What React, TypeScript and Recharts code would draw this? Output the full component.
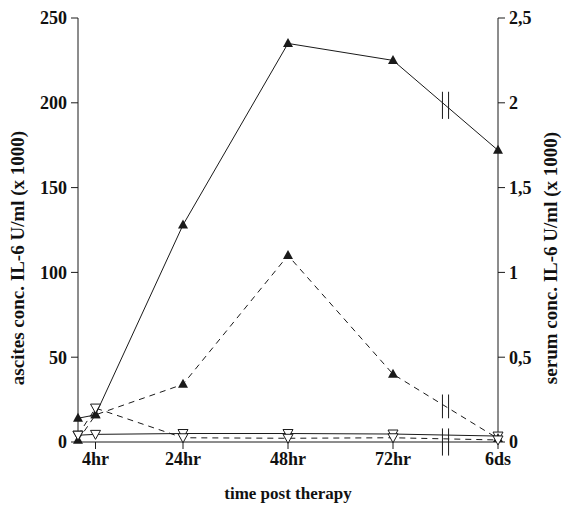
import { LineChart, Line, XAxis, YAxis, ReferenceLine } from 'recharts';

// sampling times in hours; 6ds is drawn after the axis break, one step past 72hr
const times = [0, 4, 24, 48, 72, 96];
const tickTimes = [4, 24, 48, 72, 96];
const tickLabels = ['4hr', '24hr', '48hr', '72hr', '6ds'];

// ascites (left axis, U/ml x 1000)
const ascitesA = [14, 16, 128, 235, 225, 172];
const ascitesC = [4, 4.5, 5, 5, 4.7, 3.5];
// serum (right axis, U/ml x 1000)
const serumB = [0.01, 0.16, 0.34, 1.1, 0.4, 0.02];
const serumD = [0.04, 0.2, 0.025, 0.022, 0.025, 0.012];

const leftTicks = [0, 50, 100, 150, 200, 250];
const rightTicks = [0, 0.5, 1, 1.5, 2, 2.5];

const data = times.map((t, i) => ({
  t,
  a: ascitesA[i],
  c: ascitesC[i],
  b: serumB[i],
  d: serumD[i],
}));

const INK = '#1a1a1a';
const FONT = '"Liberation Serif", "DejaVu Serif", serif';

const FilledUp = (props: any) => {
  const { cx, cy } = props;
  if (cx == null || cy == null) return null;
  return <path d={`M${cx},${cy - 5.5} L${cx + 5},${cy + 3.5} L${cx - 5},${cy + 3.5} Z`} fill={INK} />;
};

const OpenDown = (props: any) => {
  const { cx, cy } = props;
  if (cx == null || cy == null) return null;
  return (
    <path
      d={`M${cx - 5},${cy - 4} L${cx + 5},${cy - 4} L${cx},${cy + 5} Z`}
      fill="#fff"
      stroke={INK}
      strokeWidth={1}
    />
  );
};

const tickStyle = { fontFamily: FONT, fontWeight: 700, fontSize: 18, fill: '#111' };

const VerticalTitle = ({ text, tx }: any) => {
  const cy = 258;
  return (
    <text
      x={tx}
      y={cy}
      transform={`rotate(-90 ${tx} ${cy})`}
      textAnchor="middle"
      dominantBaseline="central"
      style={{ fontFamily: FONT, fontWeight: 700, fontSize: 19, fill: '#111' }}
    >
      {text}
    </text>
  );
};

// break marks sit midway between the last two samples
const breakT = (times[4] + times[5]) / 2;
const midA = (ascitesA[4] + ascitesA[5]) / 2;
const midB = (serumB[4] + serumB[5]) / 2;

export default function App() {
  return (
    <div style={{ position: 'absolute', left: 0, top: 0, background: '#fff' }}>
      <LineChart width={563} height={513} data={data} margin={{ top: 18, right: 0, bottom: 20, left: 0 }}>
        <XAxis
          dataKey="t"
          type="number"
          domain={[0, 96]}
          ticks={tickTimes}
          tickFormatter={(v: number) => tickLabels[tickTimes.indexOf(v)]}
          tick={tickStyle}
          tickSize={7}
          tickMargin={3}
          height={51}
          stroke={INK}
          label={{ value: 'time post therapy', position: 'insideBottom', offset: -6, style: { ...tickStyle, fontSize: 17 } }}
        />
        <YAxis
          yAxisId="left"
          domain={[0, 250]}
          ticks={leftTicks}
          tick={tickStyle}
          tickSize={7}
          tickMargin={4}
          width={78}
          stroke={INK}
          label={<VerticalTitle text="ascites conc. IL-6 U/ml (x 1000)" tx={17} />}
        />
        <YAxis
          yAxisId="right"
          orientation="right"
          domain={[0, 2.5]}
          ticks={rightTicks}
          tickFormatter={(v: number) => String(v).replace('.', ',')}
          tick={tickStyle}
          tickSize={7}
          tickMargin={4}
          width={65}
          stroke={INK}
          label={<VerticalTitle text="serum conc. IL-6 U/ml (x 1000)" tx={550} />}
        />
        <Line yAxisId="left" dataKey="a" stroke={INK} strokeWidth={1} dot={<FilledUp />} isAnimationActive={false} />
        <Line yAxisId="left" dataKey="c" stroke={INK} strokeWidth={1} dot={<OpenDown />} isAnimationActive={false} />
        <Line yAxisId="right" dataKey="b" stroke={INK} strokeWidth={1} strokeDasharray="6 5" dot={<FilledUp />} isAnimationActive={false} />
        <Line yAxisId="right" dataKey="d" stroke={INK} strokeWidth={1} strokeDasharray="6 5" dot={<OpenDown />} isAnimationActive={false} />
        {[-0.7, 0.7].map((dx) => (
          <ReferenceLine
            key={'a' + dx}
            yAxisId="left"
            segment={[{ x: breakT + dx, y: midA - 8 }, { x: breakT + dx, y: midA + 8 }]}
            stroke={INK}
          />
        ))}
        {[-0.7, 0.7].map((dx) => (
          <ReferenceLine
            key={'b' + dx}
            yAxisId="right"
            segment={[{ x: breakT + dx, y: midB - 0.07 }, { x: breakT + dx, y: midB + 0.07 }]}
            stroke={INK}
          />
        ))}
        {[-0.7, 0.7].map((dx) => (
          <ReferenceLine
            key={'c' + dx}
            yAxisId="left"
            ifOverflow="visible"
            segment={[{ x: breakT + dx, y: -8 }, { x: breakT + dx, y: 8 }]}
            stroke={INK}
          />
        ))}
      </LineChart>
    </div>
  );
}
